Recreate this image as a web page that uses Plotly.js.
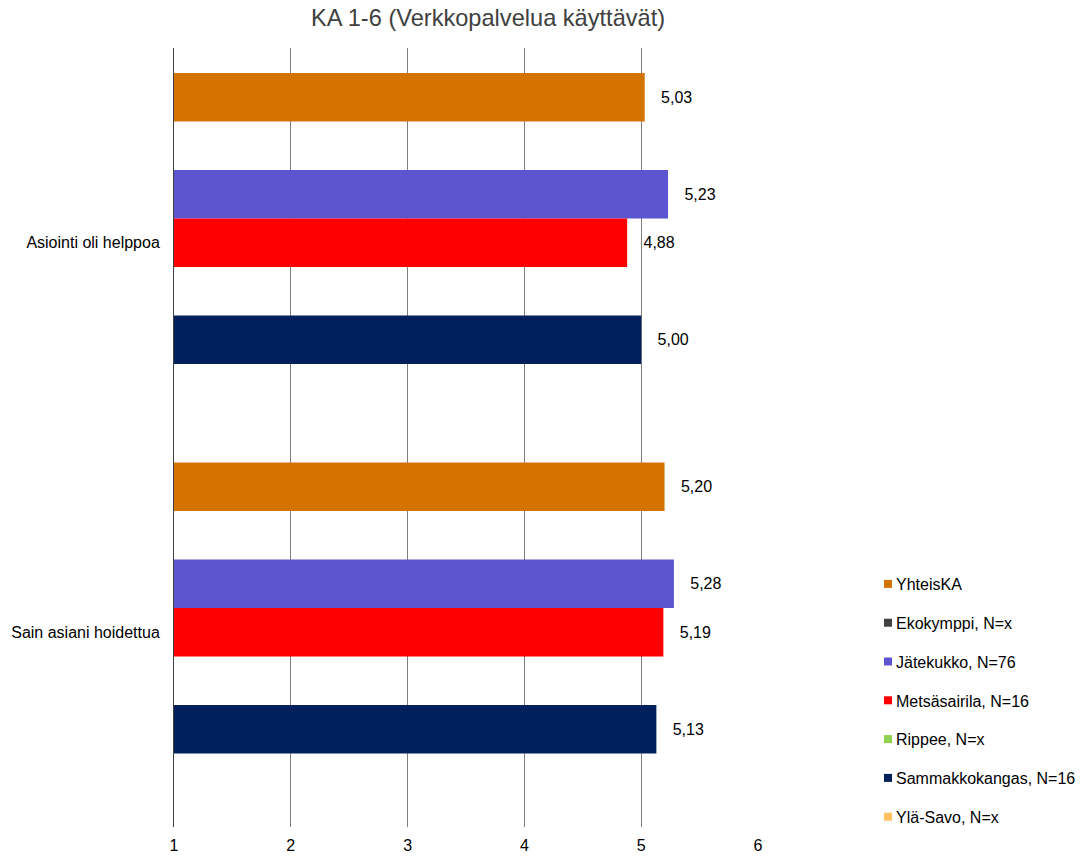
<!DOCTYPE html>
<html>
<head>
<meta charset="utf-8">
<script src="https://cdn.plot.ly/plotly-3.0.1.min.js"></script>
<style>html,body{margin:0;padding:0;background:#fff;}#chart{width:1080px;height:856px;}</style>
</head>
<body>
<div id="chart"></div>
<script>
const categories = ["Asiointi oli helppoa", "Sain asiani hoidettua"];
const seriesNames = ["YhteisKA", "Ekokymppi, N=x", "Jätekukko, N=76", "Metsäsairila, N=16", "Rippee, N=x", "Sammakkokangas, N=16", "Ylä-Savo, N=x"];
const yhteisKA = [5.03, 5.20];
const ekokymppi = [null, null];
const jatekukko = [5.23, 5.28];
const metsasairila = [4.88, 5.19];
const rippee = [null, null];
const sammakkokangas = [5.00, 5.13];
const ylaSavo = [null, null];
const seriesValues = [yhteisKA, ekokymppi, jatekukko, metsasairila, rippee, sammakkokangas, ylaSavo];
const seriesColors = ["#D47300", "#404040", "#5B55CF", "#FF0000", "#92D050", "#00205B", "#FFC060"];
const xTicks = [1, 2, 3, 4, 5, 6];

const traces = seriesNames.map((name, i) => ({
  type: "bar",
  orientation: "h",
  name: name,
  y: categories,
  x: seriesValues[i],
  base: 0,
  marker: {color: seriesColors[i], line: {width: 0}},
  texttemplate: "\u00a0\u00a0\u00a0%{x:.2f}",
  textposition: "outside",
  cliponaxis: false,
  textfont: {family: "Liberation Sans, Arial, sans-serif", size: 16, color: "#000"},
  legendgroup: "g" + i,
  hoverinfo: "x+name"
}));

const layout = {
  width: 1080,
  height: 856,
  paper_bgcolor: "#fff",
  plot_bgcolor: "#fff",
  separators: ",.",
  font: {family: "Liberation Sans, Arial, sans-serif", size: 16, color: "#000"},
  title: {text: "KA 1-6 (Verkkopalvelua käyttävät)", x: 0.4519, xref: "container", xanchor: "center", y: 0.979, yref: "container", yanchor: "middle", font: {size: 23.6, color: "#404040"}},
  margin: {l: 174, r: 322, t: 48, b: 29, autoexpand: false},
  barmode: "group",
  bargap: 0.128,
  bargroupgap: 0,
  xaxis: {
    range: [1, 6],
    tickvals: xTicks,
    ticktext: xTicks.map(String),
    showgrid: true,
    gridcolor: "#7f7f7f",
    gridwidth: 1,
    zeroline: false,
    showline: false,
    ticks: "",
    automargin: false,
    tickfont: {size: 16, color: "#000"},
    ticklabelstandoff: 7
  },
  yaxis: {
    type: "category",
    autorange: "reversed",
    showgrid: false,
    zeroline: false,
    showline: true,
    linecolor: "#404040",
    linewidth: 1,
    ticks: "",
    automargin: false,
    ticklabelstandoff: 10,
    tickfont: {size: 16, color: "#000"}
  },
  showlegend: true,
  legend: {
    x: 0.7926,
    xref: "container",
    xanchor: "left",
    y: 0.3376,
    yref: "container",
    yanchor: "top",
    traceorder: "grouped",
    tracegroupgap: 15,
    itemwidth: 30,
    font: {size: 16, color: "#000"},
    bgcolor: "rgba(0,0,0,0)"
  }
};

Plotly.newPlot("chart", traces, layout, {displayModeBar: false, staticPlot: true}).then(function (gd) {
  // smaller legend swatches placed close to the legend text, as in the reference
  gd.querySelectorAll(".legend .legendpoints path").forEach(function (p) {
    p.setAttribute("d", "M4,4H-4V-4H4Z");
    const t = p.getAttribute("transform") || "";
    p.setAttribute("transform", t + " translate(12,0)");
  });
});
</script>
</body>
</html>
